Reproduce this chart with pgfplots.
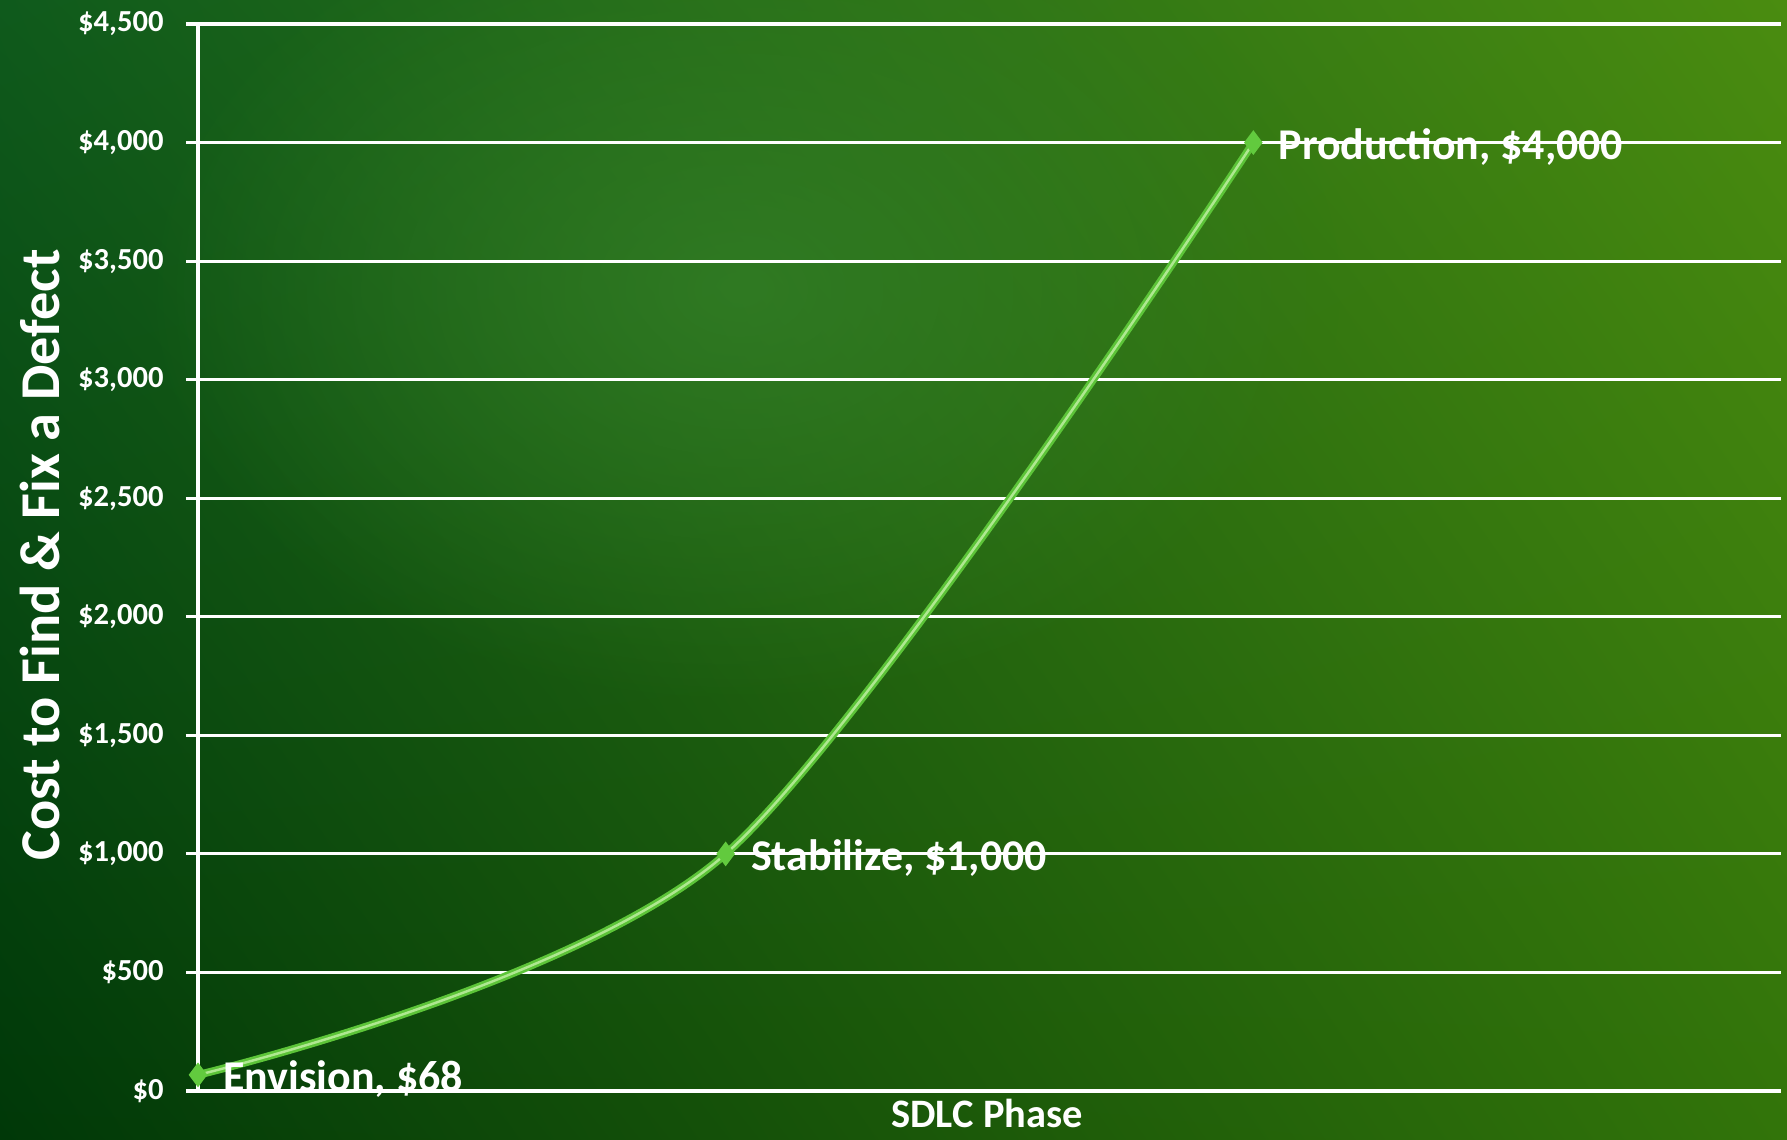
\documentclass[border=0pt]{standalone}
\usepackage{pgfplots}
\pgfplotsset{compat=1.18}
\usepackage{fontspec}
\setmainfont{Carlito}
\usetikzlibrary{fadings,shadings}
\tikzfading[name=glow, inner color=transparent!0, outer color=transparent!100]
\definecolor{bgUL}{RGB}{15,90,28}
\definecolor{bgUR}{RGB}{74,140,16}
\definecolor{bgLL}{RGB}{0,56,8}
\definecolor{bgLR}{RGB}{50,116,10}
\definecolor{glowc}{RGB}{52,128,40}
\definecolor{lineg}{RGB}{92,196,56}
\definecolor{lineh}{RGB}{175,232,145}
\definecolor{markg}{RGB}{98,202,62}
\begin{document}
\begin{tikzpicture}
\shade[upper left=bgUL, upper right=bgUR, lower left=bgLL, lower right=bgLR] (0,0) rectangle (178.7mm,113.9mm);
\fill[glowc, path fading=glow, opacity=0.75] (74mm,85mm) ellipse (60mm and 42mm);
\begin{axis}[
  at={(19.8mm,4.8mm)}, anchor=south west,
  width=158.3mm, height=106.7mm, scale only axis,
  xmin=0, xmax=3, ymin=0, ymax=4500,
  axis x line=none,
  axis y line*=left,
  y axis line style={-, white, line width=1.1pt},
  ytick={0,500,...,4500},
  ytick pos=left,
  tick align=outside,
  major tick length=1.2mm,
  ytick style={white, line width=0.9pt},
  ymajorgrids,
  grid style={white, line width=0.9pt},
  /pgf/number format/assume math mode=true,
  yticklabel={\$\pgfmathprintnumber[fixed,precision=0,1000 sep={,}]{\tick}},
  yticklabel style={font=\bfseries\fontsize{8.7}{10}\selectfont, text=white, xshift=-1mm},
  clip=false,
]
\addplot[smooth, draw=lineg, line width=2.2pt] coordinates {(0,68) (1,1000) (2,4000)};
\addplot[smooth, draw=lineh, line width=0.7pt] coordinates {(0,68) (1,1000) (2,4000)};
\addplot[only marks, mark=diamond*, mark size=3.2pt, mark options={fill=markg, draw=markg},
  point meta=explicit symbolic, nodes near coords,
  nodes near coords style={anchor=west, xshift=1.3mm, yshift=-0.4mm, text=white, font=\bfseries\fontsize{12.5}{15}\selectfont}]
  coordinates {(0,68) [Envision, \$68] (1,1000) [Stabilize, \$1,000] (2,4000) [Production, \$4,000]};
\end{axis}
\node[rotate=90, text=white, font=\bfseries\fontsize{16}{19}\selectfont] at (4.0mm,58.4mm) {Cost to Find \& Fix a Defect};
\node[anchor=base, inner sep=0pt, text=white, font=\bfseries\fontsize{11.5}{14}\selectfont] at (98.7mm,1.2mm) {SDLC Phase};
\pgfresetboundingbox
\path[use as bounding box] (0,0) rectangle (178.7mm,113.9mm);
\end{tikzpicture}
\end{document}
